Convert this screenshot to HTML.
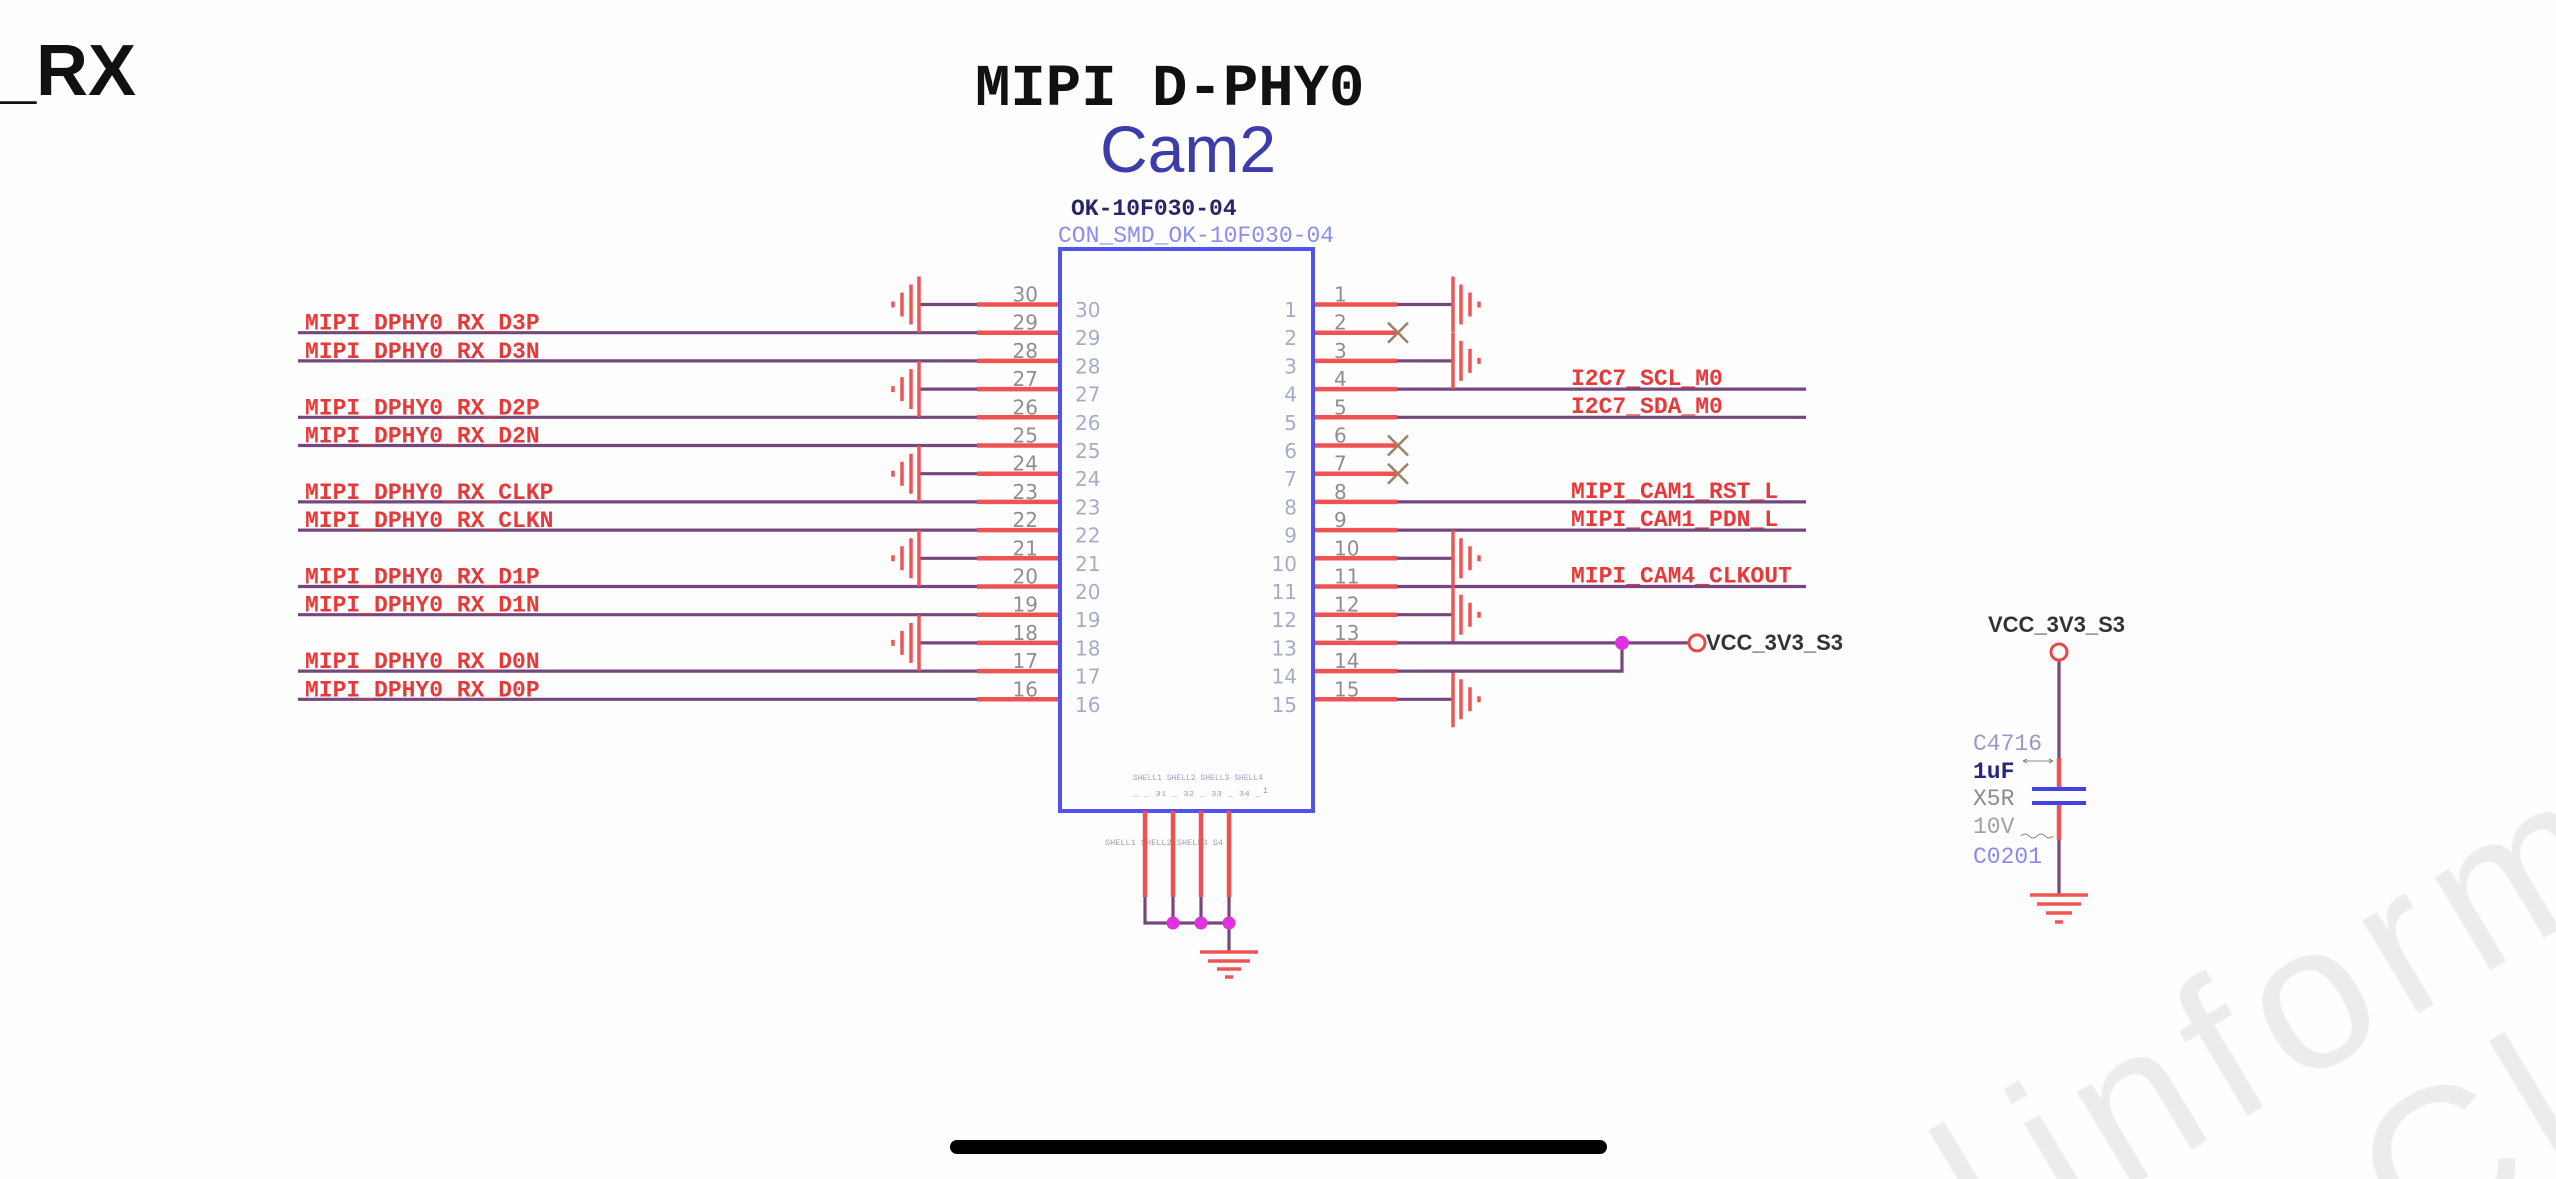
<!DOCTYPE html>
<html>
<head>
<meta charset="utf-8">
<style>
  html,body{margin:0;padding:0;background:#fefefe;}
  body{width:2556px;height:1179px;overflow:hidden;position:relative;}
  svg{display:block;position:absolute;left:0;top:0;}
  .w{stroke:#74487c;stroke-width:3.2;fill:none;}
  .r{stroke:#ee5252;stroke-width:4.5;fill:none;}
  .g{stroke:#ee5555;stroke-width:3.5;fill:none;}
  .lbl{font-family:"Liberation Mono",monospace;font-weight:bold;font-size:23px;fill:#e63a3a;}
  .no{font-family:"DejaVu Sans","Liberation Sans",sans-serif;font-size:20px;fill:#8e8e8e;}
  .ni{font-family:"DejaVu Sans","Liberation Sans",sans-serif;font-size:20px;fill:#a4acc6;}
  .wm{font-family:"Liberation Sans",sans-serif;font-size:205px;fill:#ececec;letter-spacing:16px;}
</style>
</head>
<body>
<svg width="2556" height="1179" viewBox="0 0 2556 1179" overflow="hidden" xmlns="http://www.w3.org/2000/svg">
  <defs>
    <pattern id="wmp" patternUnits="userSpaceOnUse" x="0" y="0" width="2556" height="1179">
      <text class="wm" transform="translate(1993,1265) rotate(-31)">l</text>
      <text class="wm" transform="translate(2068,1224) rotate(-31)">information</text>
      <text class="wm" transform="translate(2413,1260) rotate(-31)">Cl</text>
    </pattern>
    <g id="gl">
      <line class="w" x1="919" y1="0" x2="977" y2="0"/>
      <path class="g" d="M919 -28V28M911 -20V20M902 -12V12M893 -3V3"/>
    </g>
    <g id="gr">
      <line class="w" x1="1397" y1="0" x2="1453" y2="0"/>
      <path class="g" d="M1453 -28V28M1461 -20V20M1470 -12V12M1479 -3V3"/>
    </g>
    <g id="pl"><line class="r" x1="977" y1="0" x2="1060" y2="0"/></g>
    <g id="pr"><line class="r" x1="1313" y1="0" x2="1397" y2="0"/></g>
    <g id="sl"><line class="w" x1="298" y1="0" x2="977" y2="0"/></g>
    <g id="sr"><line class="w" x1="1397" y1="0" x2="1806" y2="0"/></g>
    <g id="nc"><path d="M1388 -10L1408 10M1408 -10L1388 10" stroke="#a08060" stroke-width="2.5" fill="none"/></g>
  </defs>

  <!-- watermark -->
  <rect x="1700" y="600" width="856" height="579" fill="url(#wmp)"/>

  <!-- top-left fragment -->
  <text x="-4" y="95" font-family="Liberation Sans, sans-serif" font-weight="bold" font-size="72" fill="#111">_RX</text>

  <!-- titles -->
  <text x="975" y="105" font-family="Liberation Mono, monospace" font-weight="bold" font-size="59" fill="#111">MIPI D-PHY0</text>
  <text x="1100" y="172" font-family="Liberation Sans, sans-serif" font-size="66" fill="#3d3daa">Cam2</text>
  <text x="1071" y="215" font-family="Liberation Mono, monospace" font-weight="bold" font-size="23" fill="#262668">OK-10F030-04</text>
  <text x="1058" y="242" font-family="Liberation Mono, monospace" font-size="23" fill="#8c8cf0">CON_SMD_OK-10F030-04</text>

  <!-- left signal wires -->
  <use href="#sl" y="332.7"/>
  <use href="#sl" y="360.9"/>
  <use href="#sl" y="417.3"/>
  <use href="#sl" y="445.5"/>
  <use href="#sl" y="501.9"/>
  <use href="#sl" y="530.1"/>
  <use href="#sl" y="586.5"/>
  <use href="#sl" y="614.7"/>
  <use href="#sl" y="671.1"/>
  <use href="#sl" y="699.3"/>

  <!-- left grounds -->
  <use href="#gl" y="304.5"/>
  <use href="#gl" y="389.1"/>
  <use href="#gl" y="473.7"/>
  <use href="#gl" y="558.3"/>
  <use href="#gl" y="642.9"/>

  <!-- left pin stubs -->
  <use href="#pl" y="304.5"/>
  <use href="#pl" y="332.7"/>
  <use href="#pl" y="360.9"/>
  <use href="#pl" y="389.1"/>
  <use href="#pl" y="417.3"/>
  <use href="#pl" y="445.5"/>
  <use href="#pl" y="473.7"/>
  <use href="#pl" y="501.9"/>
  <use href="#pl" y="530.1"/>
  <use href="#pl" y="558.3"/>
  <use href="#pl" y="586.5"/>
  <use href="#pl" y="614.7"/>
  <use href="#pl" y="642.9"/>
  <use href="#pl" y="671.1"/>
  <use href="#pl" y="699.3"/>

  <!-- right pin stubs -->
  <use href="#pr" y="304.5"/>
  <use href="#pr" y="332.7"/>
  <use href="#pr" y="360.9"/>
  <use href="#pr" y="389.1"/>
  <use href="#pr" y="417.3"/>
  <use href="#pr" y="445.5"/>
  <use href="#pr" y="473.7"/>
  <use href="#pr" y="501.9"/>
  <use href="#pr" y="530.1"/>
  <use href="#pr" y="558.3"/>
  <use href="#pr" y="586.5"/>
  <use href="#pr" y="614.7"/>
  <use href="#pr" y="642.9"/>
  <use href="#pr" y="671.1"/>
  <use href="#pr" y="699.3"/>

  <!-- right signal wires -->
  <use href="#sr" y="389.1"/>
  <use href="#sr" y="417.3"/>
  <use href="#sr" y="501.9"/>
  <use href="#sr" y="530.1"/>
  <use href="#sr" y="586.5"/>

  <!-- right grounds -->
  <use href="#gr" y="304.5"/>
  <use href="#gr" y="360.9"/>
  <use href="#gr" y="558.3"/>
  <use href="#gr" y="614.7"/>
  <use href="#gr" y="699.3"/>

  <!-- no connects -->
  <use href="#nc" y="332.7"/>
  <use href="#nc" y="445.5"/>
  <use href="#nc" y="473.7"/>

  <!-- pin 13/14 to VCC -->
  <line class="w" x1="1397" y1="642.9" x2="1689" y2="642.9"/>
  <path class="w" d="M1397 671.1H1622V642.9"/>
  <circle cx="1622" cy="642.9" r="7" fill="#e030e0"/>
  <circle cx="1697" cy="642.9" r="8" fill="#fff" stroke="#e84848" stroke-width="3"/>
  <text x="1706" y="650" font-family="Liberation Sans, sans-serif" font-weight="bold" font-size="22" fill="#333">VCC_3V3_S3</text>

  <!-- connector body -->
  <rect x="1060" y="249" width="253" height="562" fill="none" stroke="#5252ee" stroke-width="4"/>

  <!-- left labels -->
  <text class="lbl" x="305" y="329.7">MIPI_DPHY0_RX_D3P</text>
  <text class="lbl" x="305" y="357.9">MIPI_DPHY0_RX_D3N</text>
  <text class="lbl" x="305" y="414.3">MIPI_DPHY0_RX_D2P</text>
  <text class="lbl" x="305" y="442.5">MIPI_DPHY0_RX_D2N</text>
  <text class="lbl" x="305" y="498.9">MIPI_DPHY0_RX_CLKP</text>
  <text class="lbl" x="305" y="527.1">MIPI_DPHY0_RX_CLKN</text>
  <text class="lbl" x="305" y="583.5">MIPI_DPHY0_RX_D1P</text>
  <text class="lbl" x="305" y="611.7">MIPI_DPHY0_RX_D1N</text>
  <text class="lbl" x="305" y="668.1">MIPI_DPHY0_RX_D0N</text>
  <text class="lbl" x="305" y="696.3">MIPI_DPHY0_RX_D0P</text>

  <!-- right labels -->
  <text class="lbl" x="1571" y="385">I2C7_SCL_M0</text>
  <text class="lbl" x="1571" y="413.2">I2C7_SDA_M0</text>
  <text class="lbl" x="1571" y="497.8">MIPI_CAM1_RST_L</text>
  <text class="lbl" x="1571" y="526">MIPI_CAM1_PDN_L</text>
  <text class="lbl" x="1571" y="582.4">MIPI_CAM4_CLKOUT</text>

  <!-- left outside pin numbers -->
  <g class="no" text-anchor="end">
    <text x="1038" y="301.5">30</text>
    <text x="1038" y="329.7">29</text>
    <text x="1038" y="357.9">28</text>
    <text x="1038" y="386.1">27</text>
    <text x="1038" y="414.3">26</text>
    <text x="1038" y="442.5">25</text>
    <text x="1038" y="470.7">24</text>
    <text x="1038" y="498.9">23</text>
    <text x="1038" y="527.1">22</text>
    <text x="1038" y="555.3">21</text>
    <text x="1038" y="583.5">20</text>
    <text x="1038" y="611.7">19</text>
    <text x="1038" y="639.9">18</text>
    <text x="1038" y="668.1">17</text>
    <text x="1038" y="696.3">16</text>
  </g>
  <!-- left inside pin numbers -->
  <g class="ni">
    <text x="1075" y="317">30</text>
    <text x="1075" y="345.2">29</text>
    <text x="1075" y="373.4">28</text>
    <text x="1075" y="401.6">27</text>
    <text x="1075" y="429.8">26</text>
    <text x="1075" y="458">25</text>
    <text x="1075" y="486.2">24</text>
    <text x="1075" y="514.4">23</text>
    <text x="1075" y="542.6">22</text>
    <text x="1075" y="570.8">21</text>
    <text x="1075" y="599">20</text>
    <text x="1075" y="627.2">19</text>
    <text x="1075" y="655.4">18</text>
    <text x="1075" y="683.6">17</text>
    <text x="1075" y="711.8">16</text>
  </g>
  <!-- right outside pin numbers -->
  <g class="no">
    <text x="1334" y="301.5">1</text>
    <text x="1334" y="329.7">2</text>
    <text x="1334" y="357.9">3</text>
    <text x="1334" y="386.1">4</text>
    <text x="1334" y="414.3">5</text>
    <text x="1334" y="442.5">6</text>
    <text x="1334" y="470.7">7</text>
    <text x="1334" y="498.9">8</text>
    <text x="1334" y="527.1">9</text>
    <text x="1334" y="555.3">10</text>
    <text x="1334" y="583.5">11</text>
    <text x="1334" y="611.7">12</text>
    <text x="1334" y="639.9">13</text>
    <text x="1334" y="668.1">14</text>
    <text x="1334" y="696.3">15</text>
  </g>
  <!-- right inside pin numbers -->
  <g class="ni" text-anchor="end">
    <text x="1297" y="317">1</text>
    <text x="1297" y="345.2">2</text>
    <text x="1297" y="373.4">3</text>
    <text x="1297" y="401.6">4</text>
    <text x="1297" y="429.8">5</text>
    <text x="1297" y="458">6</text>
    <text x="1297" y="486.2">7</text>
    <text x="1297" y="514.4">8</text>
    <text x="1297" y="542.6">9</text>
    <text x="1297" y="570.8">10</text>
    <text x="1297" y="599">11</text>
    <text x="1297" y="627.2">12</text>
    <text x="1297" y="655.4">13</text>
    <text x="1297" y="683.6">14</text>
    <text x="1297" y="711.8">15</text>
  </g>

  <!-- tiny pad texts -->
  <text x="1133" y="780" font-family="Liberation Mono, monospace" font-size="8" fill="#9aa2c4" textLength="130" lengthAdjust="spacingAndGlyphs">SHELL1 SHELL2 SHELL3 SHELL4</text>
  <text x="1133" y="796" font-family="Liberation Mono, monospace" font-size="7" fill="#9aa2c4" textLength="128" lengthAdjust="spacingAndGlyphs">_ _ 31 _ 32 _ 33 _ 34 _</text>
  <text x="1263" y="793" font-family="Liberation Mono, monospace" font-size="8" fill="#8890b8">1</text>
  <text x="1105" y="845" font-family="Liberation Mono, monospace" font-size="8" fill="#a0a0a8" textLength="118" lengthAdjust="spacingAndGlyphs">SHELL1 SHELL2 SHELL3 S4</text>

  <!-- bottom pins -->
  <path class="r" d="M1145 811V897M1173 811V897M1201 811V897M1229 811V897"/>
  <path class="w" d="M1145 897V923H1229M1173 897V923M1201 897V923M1229 897V952"/>
  <circle cx="1173" cy="923" r="6.5" fill="#e030e0"/>
  <circle cx="1201" cy="923" r="6.5" fill="#e030e0"/>
  <circle cx="1229" cy="923" r="6.5" fill="#e030e0"/>
  <path class="g" d="M1200 952H1258M1208 961H1250M1217 969H1241M1225 977H1233"/>

  <!-- capacitor section -->
  <text x="1988" y="632" font-family="Liberation Sans, sans-serif" font-weight="bold" font-size="22" fill="#333">VCC_3V3_S3</text>
  <line class="w" x1="2059" y1="660" x2="2059" y2="758"/>
  <line class="r" x1="2059" y1="758" x2="2059" y2="789"/>
  <line class="r" x1="2059" y1="803" x2="2059" y2="840"/>
  <line class="w" x1="2059" y1="840" x2="2059" y2="895"/>
  <circle cx="2059" cy="652" r="8" fill="#fff" stroke="#e84848" stroke-width="3"/>
  <path d="M2032 789H2086M2032 803H2086" stroke="#4343e0" stroke-width="4" fill="none"/>
  <path class="g" d="M2030 895H2088M2037 904H2081M2046 913H2072M2055 922H2063"/>
  <g font-family="Liberation Mono, monospace" font-size="23">
    <text x="1973" y="750" fill="#9898c8">C4716</text>
    <text x="1973" y="778" fill="#262680" font-weight="bold">1uF</text>
    <text x="1973" y="805" fill="#8a8a8a">X5R</text>
    <text x="1973" y="833" fill="#a0a0a0">10V</text>
    <text x="1973" y="863" fill="#8888ee">C0201</text>
  </g>
  <path d="M2023 761H2053M2023 761l4 -2M2023 761l4 2M2053 761l-4 -2M2053 761l-4 2" stroke="#8a8a8a" stroke-width="1" fill="none"/>
  <path d="M2021 836q4 -4 8 0t8 0t8 0t8 0" stroke="#8a8a8a" stroke-width="1" fill="none"/>

  <!-- home indicator -->
  <rect x="950" y="1140" width="657" height="14" rx="7" ry="7" fill="#000"/>
</svg>
</body>
</html>
